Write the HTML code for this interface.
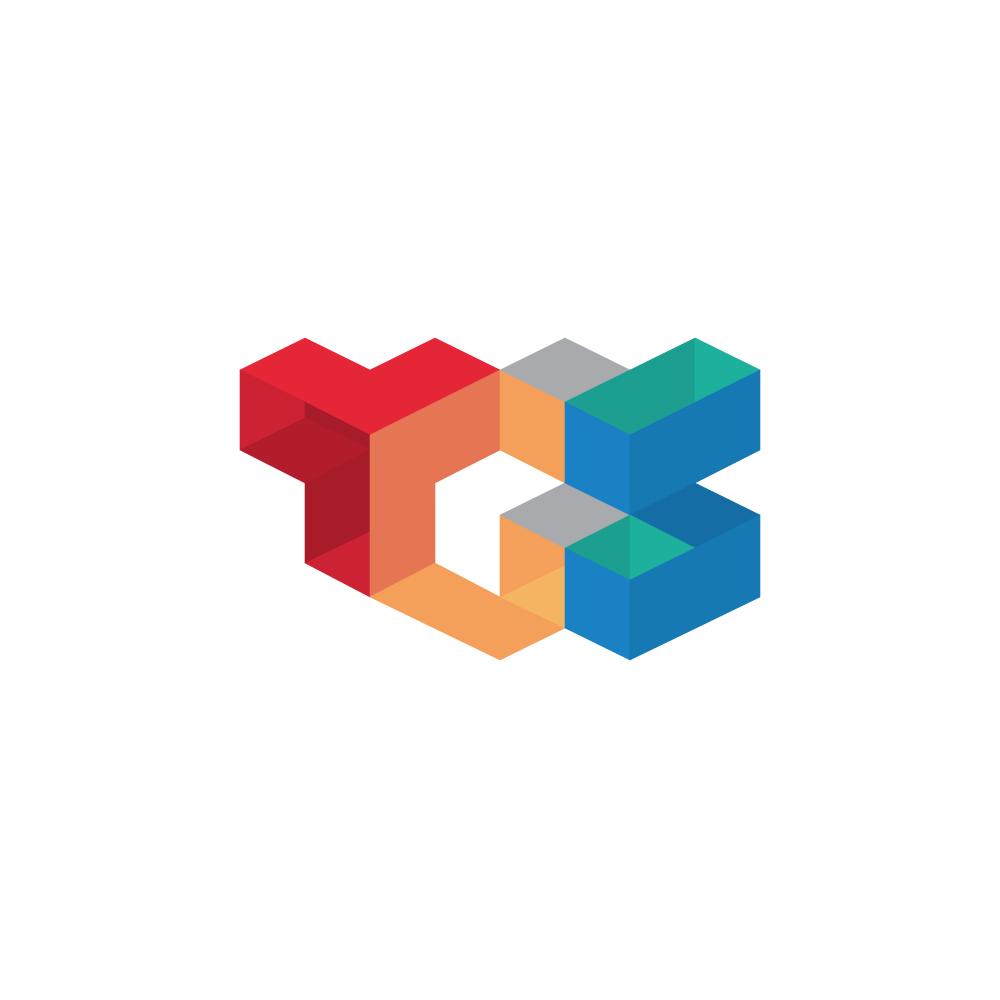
<!DOCTYPE html>
<html><head><meta charset="utf-8"><style>
html,body{margin:0;padding:0;background:#fff;width:1000px;height:1000px;overflow:hidden}
svg{display:block}
</style></head><body>
<svg width="1000" height="1000" viewBox="0 0 1000 1000">
<g stroke-width="0.6" stroke-linejoin="round">
<polygon fill="#e52636" stroke="#e52636" points="240,370 305,338 370,370 435,338 500,370 370,435"/>
<polygon fill="#cc2233" stroke="#cc2233" points="240,370 305,402 305,418 240,450"/>
<polygon fill="#a81c29" stroke="#a81c29" points="305,402 370,435 370,450 305,418"/>
<polygon fill="#b31c2b" stroke="#b31c2b" points="240,450 305,418 370,450 305,483"/>
<polygon fill="#a81c29" stroke="#a81c29" points="305,483 370,450 370,532 305,563"/>
<polygon fill="#cc2233" stroke="#cc2233" points="305,563 370,532 370,597"/>
</g>
<g stroke-width="0.6" stroke-linejoin="round">
<polygon fill="#e67653" stroke="#e67653" points="370,435 500,370 500,450 435,483 435,563 370,597"/>
<polygon fill="#f4a05b" stroke="#f4a05b" points="370,597 435,563 500,597 565,628 500,660"/>
<polygon fill="#f5b462" stroke="#f5b462" points="500,597 565,565 565,628"/>
<polygon fill="#f4a05b" stroke="#f4a05b" points="500,515 565,548 565,565 500,597"/>
<polygon fill="#f4a05b" stroke="#f4a05b" points="500,370 565,402 565,483 500,450"/>
</g>
<g stroke-width="0.6">
<polygon fill="#a9aaad" stroke="#a9aaad" points="500,370 565,338 630,370 565,402"/>
<polygon fill="#a9aaad" stroke="#a9aaad" points="500,515 565,483 630,515 565,548"/>
</g>
<g stroke-width="0.6" stroke-linejoin="round">
<polygon fill="#1c9f90" stroke="#1c9f90" points="565,402 695,338 760,370 630,435"/>
<polygon fill="#1db09d" stroke="#1db09d" points="695,338 760,370 695,402"/>
<polygon fill="#1a82c4" stroke="#1a82c4" points="565,402 630,435 630,515 565,483"/>
<polygon fill="#1779b3" stroke="#1779b3" points="630,435 760,370 760,450 695,483 630,515"/>
<polygon fill="#146ea5" stroke="#146ea5" points="630,515 695,483 760,515 695,548"/>
<polygon fill="#1c9f90" stroke="#1c9f90" points="565,548 630,515 630,580"/>
<polygon fill="#1db09d" stroke="#1db09d" points="630,515 695,548 630,580"/>
<polygon fill="#1a82c4" stroke="#1a82c4" points="565,548 630,580 630,660 565,628"/>
<polygon fill="#1779b3" stroke="#1779b3" points="630,580 695,548 760,515 760,597 630,660"/>
</g>
</svg>
</body></html>
